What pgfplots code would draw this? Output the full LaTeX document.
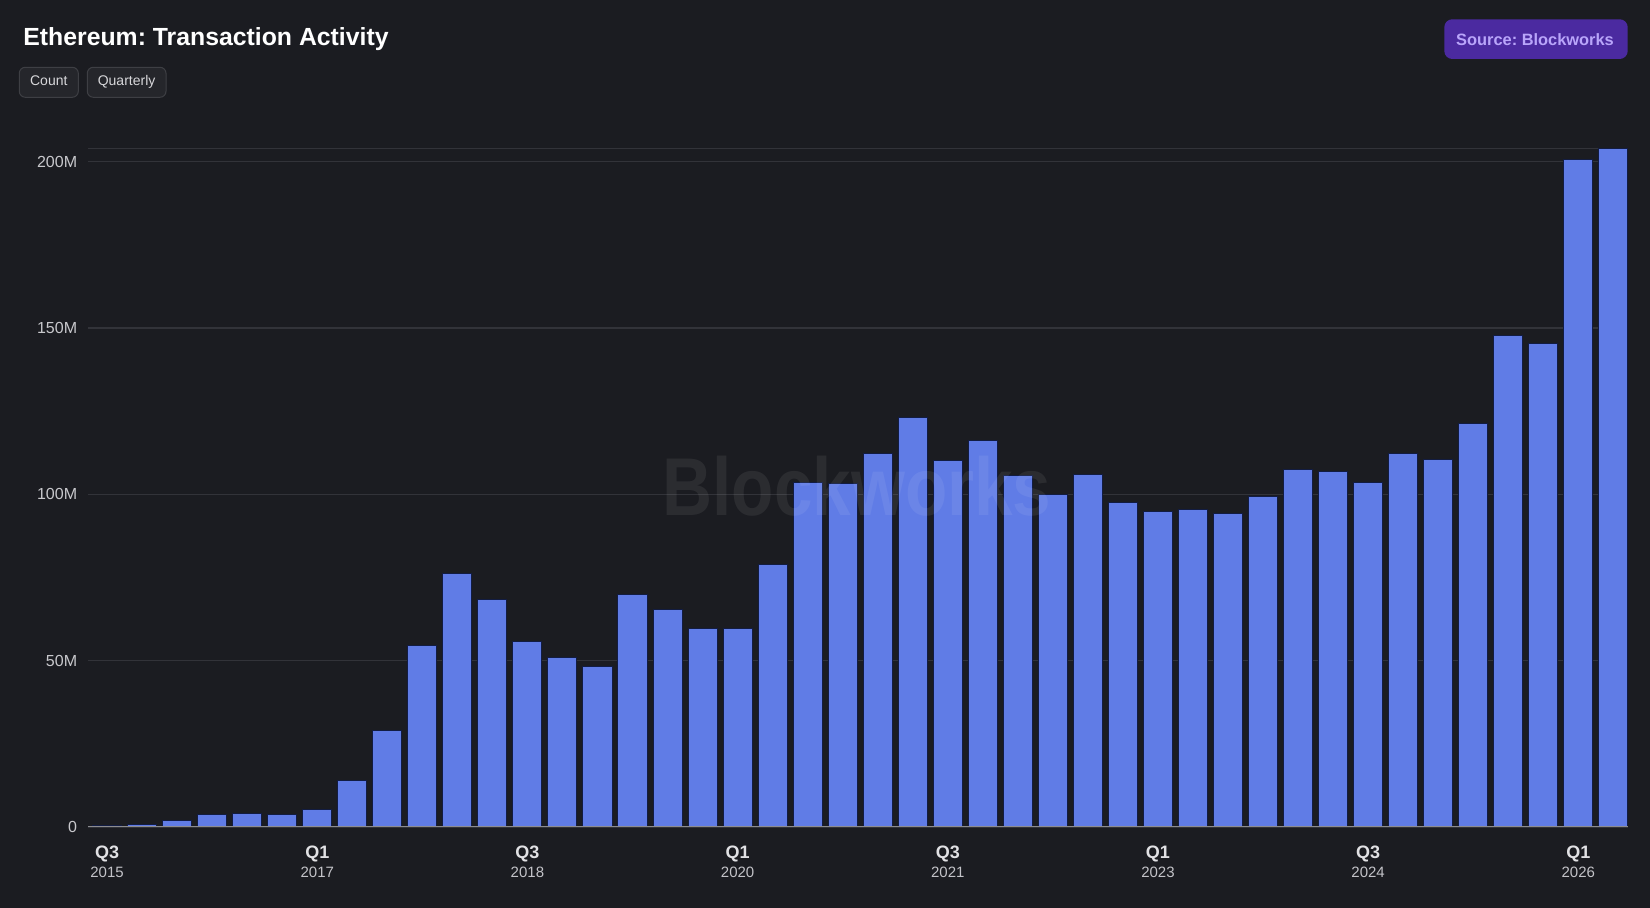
\documentclass[border=0pt]{standalone}
\usepackage{fontspec}
\setmainfont{Liberation Sans}
\usepackage{pgfplots}
\pgfplotsset{compat=1.18}
\frenchspacing
\definecolor{bg}{RGB}{27,28,33}
\definecolor{gridc}{RGB}{50,51,57}
\definecolor{barc}{RGB}{96,124,230}
\definecolor{barb}{RGB}{18,28,66}
\definecolor{axc}{RGB}{140,140,145}
\definecolor{ytc}{RGB}{200,200,204}
\definecolor{qc}{RGB}{225,225,228}
\definecolor{yc}{RGB}{195,195,200}
\definecolor{btnbg}{RGB}{37,38,43}
\definecolor{btnbd}{RGB}{62,63,68}
\definecolor{btnt}{RGB}{215,215,218}
\definecolor{srcbg}{RGB}{75,42,160}
\definecolor{srct}{RGB}{185,165,250}
\begin{document}
\begin{tikzpicture}[x=1pt,y=1pt]
\fill[bg] (0,0) rectangle (825,454);
\begin{axis}[
  at={(44pt,40.5pt)}, anchor=south west,
  scale only axis, width=770pt, height=339.35pt,
  xmin=-0.545, xmax=43.42, ymin=0, ymax=204,
  axis line style={draw=none},
  tick style={draw=none}, major tick length=0pt,
  /pgf/number format/assume math mode=true,
  ytick={0,50,100,150,200},
  yticklabels={0,50M,100M,150M,200M},
  ymajorgrids,
  grid style={color=gridc, line width=0.6pt},
  extra y ticks={204}, extra y tick labels={},
  extra y tick style={grid=major},
  yticklabel style={font=\fontsize{8}{9}\selectfont, text=ytc, anchor=east, inner xsep=0pt, xshift=-5.25pt},
  xtick={0,6,...,42},
  xticklabels={Q3,Q1,Q3,Q1,Q3,Q1,Q3,Q1},
  xticklabel style={font=\fontsize{9}{10}\selectfont\bfseries, text=qc, anchor=base, inner sep=0pt, yshift=-16pt},
  extra x ticks={0,6,...,42},
  extra x tick labels={2015,2017,2018,2020,2021,2023,2024,2026},
  extra x tick style={grid=none, xticklabel style={font=\fontsize{7.5}{9}\selectfont, text=yc, yshift=-9.35pt}},
]
\addplot[ybar, bar width=0.83, fill=barc, draw=barb, line width=0.5pt] coordinates {
(0,0.4) (1,0.8) (2,1.9) (3,3.7) (4,4.2) (5,3.9) (6,5.3) (7,14.1) (8,29.1) (9,54.7)
(10,76.2) (11,68.5) (12,55.9) (13,50.9) (14,48.1) (15,69.9) (16,65.4) (17,59.6) (18,59.7) (19,78.8)
(20,103.5) (21,103.1) (22,112.3) (23,123.2) (24,110.3) (25,116.2) (26,105.7) (27,99.8) (28,106.0) (29,97.6)
(30,94.9) (31,95.5) (32,94.1) (33,99.2) (34,107.6) (35,107.0) (36,103.5) (37,112.3) (38,110.5) (39,121.4)
(40,147.6) (41,145.4) (42,200.7) (43,204.0)
};
\addplot[axc, line width=1pt] coordinates {(-0.545,0) (43.42,0)};
\end{axis}
% watermark
\node[text=white, text opacity=0.07, font=\fontsize{41}{41}\selectfont\bfseries, xscale=0.845] at (428.5,211) {Blockworks};
% title
\node[anchor=base west, inner sep=0pt, text=white, font=\fontsize{12.4}{14}\selectfont\bfseries] at (11.5,431.15) {Ethereum: Transaction Activity};
% buttons
\draw[fill=btnbg, draw=btnbd, rounded corners=3pt, line width=0.5pt] (9.65,405.35) rectangle (39.15,420.35);
\node[anchor=base, inner sep=0pt, text=btnt, font=\fontsize{7}{8}\selectfont] at (24.4,411) {Count};
\draw[fill=btnbg, draw=btnbd, rounded corners=3pt, line width=0.5pt] (43.65,405.35) rectangle (83,420.35);
\node[anchor=base, inner sep=0pt, text=btnt, font=\fontsize{7}{8}\selectfont] at (63.3,411) {Quarterly};
% source
\fill[srcbg, rounded corners=4pt] (722.15,424.5) rectangle (813.85,444.35);
\node[anchor=base, inner sep=0pt, text=srct, font=\fontsize{8.2}{9}\selectfont\bfseries] at (767.5,431) {Source: Blockworks};
\end{tikzpicture}
\end{document}
